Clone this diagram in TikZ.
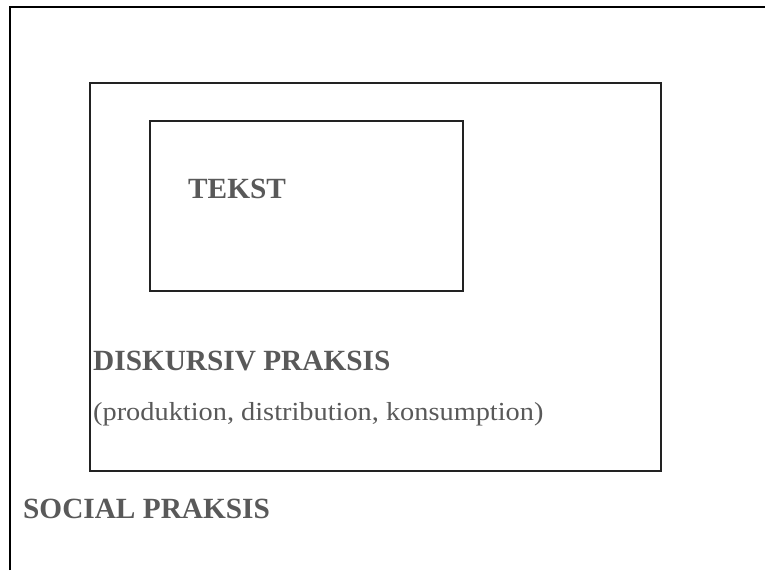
\documentclass[tikz,border=0pt]{standalone}
\usepackage{fontspec}
\setmainfont{Liberation Serif}
\newfontfamily\subfont{Liberation Serif}[FakeStretch=1.09]
\definecolor{txtgray}{HTML}{595959}
\definecolor{linegray}{HTML}{222222}
\tikzset{
  framebox/.style={draw=linegray, line width=1.6pt, inner sep=0pt, anchor=north west},
  headtxt/.style={text=txtgray, font=\fontsize{29.3}{34}\selectfont\bfseries, anchor=base west, inner sep=0pt},
  subtxt/.style={text=txtgray, font=\subfont\fontsize{26}{30}\selectfont, anchor=base west, inner sep=0pt}
}
\begin{document}
\begin{tikzpicture}[x=1pt,y=-1pt]
\useasboundingbox (0,0) rectangle (765,570);
\fill[white] (0,0) rectangle (765,570);
% outer frame (social praksis), open at right and bottom
\coordinate (ob) at (10,570);
\coordinate (oc) at (10,7);
\coordinate (or) at (765,7);
\draw[black, line width=2pt] (ob) -- (oc) -- (or);
\node[framebox, minimum width=571pt, minimum height=388pt] (diskursiv) at (89,82) {};
\node[framebox, minimum width=313pt, minimum height=170pt] (tekst) at (149,120) {};
\node[headtxt] (tekstlbl) at (188,198) {TEKST};
\node[headtxt] (disklbl) at (93,370) {DISKURSIV PRAKSIS};
\node[subtxt] (disksub) at (93,420) {(produktion, distribution, konsumption)};
\node[headtxt] (sociallbl) at (23,518) {SOCIAL PRAKSIS};
\end{tikzpicture}
\end{document}
